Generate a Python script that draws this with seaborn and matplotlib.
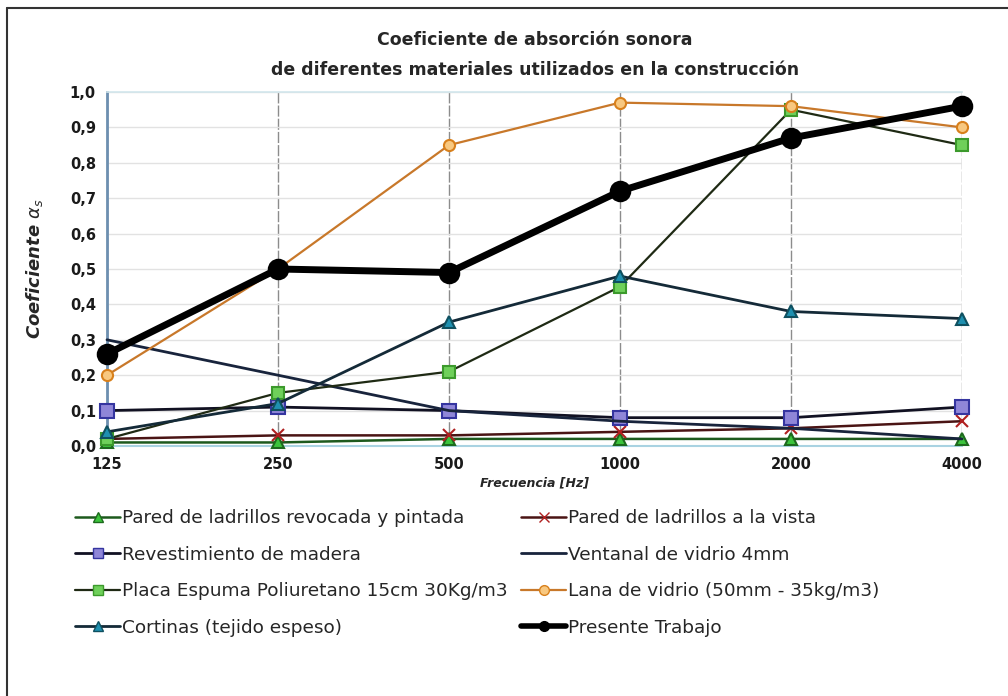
import numpy as np
import pandas as pd
import matplotlib
matplotlib.use("Agg")
import matplotlib.pyplot as plt
from matplotlib import font_manager
from matplotlib.lines import Line2D
import seaborn as sns

# Frequency bands and absorption coefficients per material
frecuencias = ["125", "250", "500", "1000", "2000", "4000"]

revocada = [0.01, 0.01, 0.02, 0.02, 0.02, 0.02]
vista = [0.02, 0.03, 0.03, 0.04, 0.05, 0.07]
madera = [0.10, 0.11, 0.10, 0.08, 0.08, 0.11]
ventanal = [0.30, 0.20, 0.10, 0.07, 0.05, 0.02]
espuma = [0.02, 0.15, 0.21, 0.45, 0.95, 0.85]
lana = [0.20, 0.50, 0.85, 0.97, 0.96, 0.90]
cortinas = [0.04, 0.12, 0.35, 0.48, 0.38, 0.36]
presente = [0.26, 0.50, 0.49, 0.72, 0.87, 0.96]

nombres = [
    "Pared de ladrillos revocada y pintada",
    "Pared de ladrillos a la vista",
    "Revestimiento de madera",
    "Ventanal de vidrio 4mm",
    "Placa Espuma Poliuretano 15cm 30Kg/m3",
    "Lana de vidrio (50mm - 35kg/m3)",
    "Cortinas (tejido espeso)",
    "Presente Trabajo",
]
valores = [revocada, vista, madera, ventanal, espuma, lana, cortinas, presente]

sns.set_theme(style="white")
disponibles = {f.name for f in font_manager.fontManager.ttflist}
narrow = "Liberation Sans Narrow" if "Liberation Sans Narrow" in disponibles else "DejaVu Sans"
plt.rcParams["font.family"] = ["DejaVu Sans"]

# line colour, marker, marker face, marker edge, marker size, line width, zorder
estilos = [
    dict(color="#1d5a1d", marker="^", mfc="#3cc43c", mec="#1d6a1d", ms=8, lw=1.8, z=3),
    dict(color="#4a1414", marker="x", mfc="#b02020", mec="#b02020", ms=9, lw=1.8, z=3),
    dict(color="#111122", marker="s", mfc="#8f86d8", mec="#3535a0", ms=10, lw=2.0, z=3),
    dict(color="#18243c", marker="None", mfc="none", mec="none", ms=0, lw=2.0, z=3),
    dict(color="#1f2a14", marker="s", mfc="#6fd05a", mec="#3c9a2c", ms=8, lw=1.6, z=3),
    dict(color="#c8782a", marker="o", mfc="#f8c880", mec="#d8801c", ms=8, lw=1.6, z=4),
    dict(color="#142a38", marker="^", mfc="#1f90b0", mec="#0f5060", ms=9, lw=2.0, z=3),
    dict(color="#000000", marker="o", mfc="#000000", mec="#000000", ms=14, lw=5.0, z=6),
]

fig = plt.figure(figsize=(10.08, 6.96), dpi=100)
ax = fig.add_axes([107 / 1008, 1 - 446 / 696, (962 - 107) / 1008, (446 - 92) / 696])

pos = np.arange(len(frecuencias))
for nombre, vals, st in zip(nombres, valores, estilos):
    df = pd.DataFrame({"x": pos, "y": vals})
    sns.lineplot(data=df, x="x", y="y", ax=ax, color=st["color"], lw=st["lw"],
                 marker=st["marker"], markersize=st["ms"], markerfacecolor=st["mfc"],
                 markeredgecolor=st["mec"], markeredgewidth=1.5, zorder=st["z"],
                 clip_on=False, label=nombre, legend=False)

ax.set_xlim(0, len(frecuencias) - 1)
ax.set_ylim(0, 1.0)
ax.set_xticks(pos)
ax.set_xticklabels(frecuencias)
yt = np.round(np.arange(0, 1.01, 0.1), 1)
ax.set_yticks(yt)
ax.set_yticklabels([f"{v:.1f}".replace(".", ",") for v in yt])
ax.tick_params(axis="both", labelsize=10.5, length=0, pad=8)
for lab in ax.get_xticklabels() + ax.get_yticklabels():
    lab.set_fontweight("bold")
    lab.set_color("#1a1a1a")

ax.grid(axis="y", color="#e2e2e2", lw=1.0)
ax.grid(axis="x", color="#8c8c8c", lw=1.0, ls=(0, (8, 1.5)))
ax.set_axisbelow(True)
ax.spines["left"].set_color("#6d8fb0")
ax.spines["left"].set_linewidth(2.0)
ax.spines["bottom"].set_color("#a9d3e2")
ax.spines["bottom"].set_linewidth(1.5)
ax.spines["top"].set_color("#d2e6ec")
ax.spines["top"].set_linewidth(1.2)
ax.spines["right"].set_visible(False)

ax.set_xlabel("Frecuencia [Hz]", fontsize=9, fontweight="bold", fontstyle="italic", labelpad=3)
ax.set_ylabel(r"Coeficiente $\mathit{\alpha_s}$", fontsize=13, fontweight="bold",
              fontstyle="italic", labelpad=18)

fig.text(535 / 1008, 1 - 40 / 696, "Coeficiente de absorción sonora",
         ha="center", va="center", fontsize=12.5, fontweight="bold")
fig.text(535 / 1008, 1 - 70 / 696, "de diferentes materiales utilizados en la construcción",
         ha="center", va="center", fontsize=12.5, fontweight="bold")

# Two-column legend built as two single-column legends
handles = []
for nombre, st in zip(nombres, estilos):
    handles.append(Line2D([], [], color=st["color"], lw=min(st["lw"], 2.0) if st["lw"] < 4 else 4.0,
                          marker=st["marker"], markersize=min(st["ms"], 7) if st["ms"] else 0,
                          markerfacecolor=st["mfc"], markeredgecolor=st["mec"], label=nombre))
col1 = [handles[i] for i in (0, 2, 4, 6)]
col2 = [handles[i] for i in (1, 3, 5, 7)]
for hs, x0 in ((col1, 68), (col2, 514)):
    leg = fig.legend(handles=hs, loc="upper left", bbox_to_anchor=(x0 / 1008, 1 - 502 / 696),
                     frameon=False, handlelength=2.4, handletextpad=0.1, labelspacing=1.0,
                     prop={"family": narrow, "size": 13.3}, borderaxespad=0)

# Outer frame (top and left edges)
fig.add_artist(Line2D([7 / 1008, 7 / 1008], [0, 1 - 8 / 696], transform=fig.transFigure,
                      color="#333333", lw=1.5))
fig.add_artist(Line2D([7 / 1008, 1], [1 - 8 / 696, 1 - 8 / 696], transform=fig.transFigure,
                      color="#333333", lw=1.5))

fig.savefig("out.png", dpi=100, facecolor="white")
